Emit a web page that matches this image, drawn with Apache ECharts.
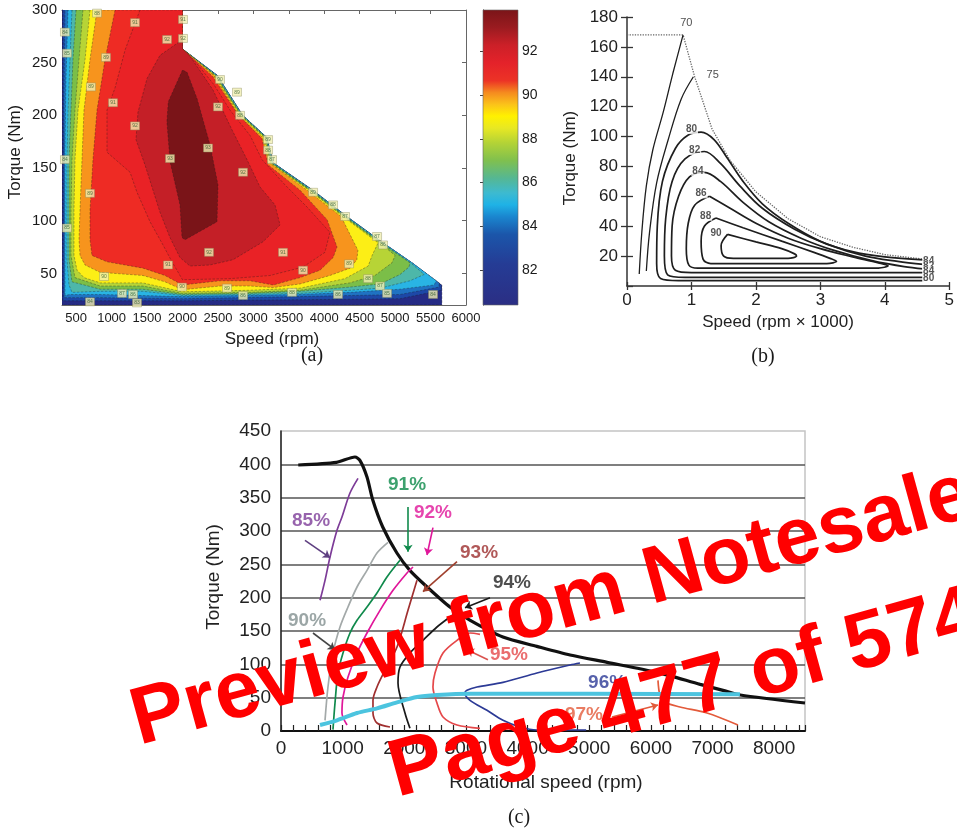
<!DOCTYPE html>
<html>
<head>
<meta charset="utf-8">
<script src="https://cdn.jsdelivr.net/npm/echarts@6/dist/echarts.min.js"></script>
<style>
  html, body { margin: 0; padding: 0; background: #fff; }
  #chart { width: 957px; height: 832px; }
</style>
</head>
<body>
<div id="chart"></div>
<script>
// ---------- (a) efficiency map: speed (rpm) vs torque (Nm), filled contour regions ----------
// Each region is the area where efficiency >= its level, listed as [speed, torque] vertices.
const mapLevels = [81, 82, 83, 84, 85.5, 86.5, 87.5, 88.5, 89.5, 90.5, 91.5, 92.5, 93.5];

const region81 = [[300,20],[300,300],[2000,300],[2000,263],[2490,238],[2850,200],[3190,179],[3280,155],[3840,129],[4320,104],[4830,79],[5240,60],[5660,39],[5660,20]];
const region82 = [[314,24],[314,300],[2000,300],[2000,263],[2490,238],[2850,200],[3190,179],[3280,155],[3840,129],[4320,104],[4830,79],[5240,60],[5650,39],[5650,34],[5070,26],[3660,25],[2000,24]];
const region83 = [[328,27],[328,215],[342,300],[2000,300],[2000,263],[2490,238],[2850,200],[3190,179],[3280,155],[3840,129],[4320,104],[4830,79],[5240,60],[5620,41],[5620,37],[5070,30],[3660,28],[2000,26],[840,27]];
const region84 = [[342,29],[342,167],[356,234],[385,300],[2000,300],[2000,263],[2490,238],[2850,200],[3190,179],[3280,155],[3840,129],[4320,104],[4830,79],[5240,60],[5580,43],[5550,39],[5070,35],[4360,32],[3660,30],[2000,28],[840,30],[410,30]];
const region85 = [[441,300],[413,253],[385,205],[370,158],[370,63],[399,39],[441,32],[840,33],[1440,33],[2000,29],[2950,30],[3660,31],[4360,34],[4790,36],[5210,43],[5410,49],[5220,60],[4815,79],[4305,104],[3828,129],[3270,155],[3185,179],[2845,200],[2480,238],[2000,263],[2000,300]];
const region86 = [[498,300],[455,253],[427,205],[399,158],[399,63],[441,42],[840,35],[1440,35],[2000,30],[2950,31],[3660,33],[4360,37],[4790,40],[5070,49],[5195,56],[5210,60],[4800,79],[4295,104],[3815,129],[3255,155],[3175,179],[2835,200],[2470,238],[2000,263],[2000,300]];
const region87 = [[596,300],[540,253],[483,205],[441,158],[427,110],[427,67],[483,46],[840,38],[1440,38],[2000,31],[2950,32],[3660,34],[4360,41],[4715,48],[4955,60],[5000,67],[4785,79],[4280,104],[3800,129],[3245,155],[3165,179],[2825,200],[2460,238],[2000,263],[2000,300]];
const region88 = [[695,300],[625,253],[526,205],[483,158],[469,110],[469,67],[512,53],[610,46],[840,41],[1440,41],[2000,32.5],[2950,34],[3660,36],[4290,45],[4620,57],[4675,67],[4760,79],[4265,104],[3785,129],[3235,155],[3150,179],[2815,200],[2450,238],[2000,263],[2000,300]];
const region89 = [[794,300],[695,253],[610,205],[582,158],[554,110],[540,82],[554,67],[625,58],[836,51],[1443,48],[1753,42],[2000,34.5],[2530,38],[2950,38],[3280,36.5],[3660,40],[4080,48],[4365,55],[4460,63],[4475,72],[4237,104],[3757,129],[3225,155],[3130,179],[2800,200],[2440,238],[2000,263],[2000,300]];
const region90 = [[1048,300],[907,253],[794,205],[737,158],[695,110],[695,82],[723,67],[935,61],[1443,55],[1753,48],[2000,39],[2530,43],[2950,43],[3280,39],[3660,46],[3940,53],[4125,65],[4180,75],[4040,101],[3658,129],[3210,153],[3120,178],[2790,200],[2425,237],[2000,263],[2000,300]];
const region91 = [[1400,300],[1190,262],[1048,226],[935,205],[935,165],[1260,146],[1358,127],[1542,99],[1725,77],[1852,61],[2000,44],[2670,45],[3235,48],[3700,56],[4010,70],[4080,89],[3757,113],[3447,134],[3122,158],[2953,181],[2670,205],[2445,229],[2180,251],[2000,263],[2000,300]];
const region92 = [[2000,272],[1683,257],[1500,235],[1372,203],[1344,177],[1471,153],[1584,129],[1683,108],[1824,84],[1965,65],[2106,57],[2388,58],[2713,63],[3136,80],[3376,96],[3305,115],[3094,132],[2910,158],[2700,186],[2431,224],[2150,252],[2080,258],[2000,263]];
const region93 = [[2000,243],[1800,213],[1780,194],[1825,156],[1965,115],[1993,84],[2036,82],[2487,99],[2501,134],[2388,172],[2205,216],[2064,241]];

const mapRegions = [region81, region82, region83, region84, region85, region86, region87,
                    region88, region89, region90, region91, region92, region93];

// contour labels on the map: [speed, torque, level]
const mapLabels = [[1330,288,91],[1782,272,92],[2007,291,91],[2007,273,92],[921,255,89],[709,227,89],[1020,212,91],[1330,190,92],[1824,159,93],[2360,169,93],[2854,146,92],[695,126,89],[2501,208,92],[2529,234,90],[2769,222,89],[2812,200,88],[3207,177,89],[3207,167,88],[3263,158,87],[3842,127,89],[4124,115,88],[4293,104,87],[4745,85,87],[4829,77,86],[2374,70,92],[3418,70,91],[1796,58,91],[3701,53,90],[4350,59,89],[893,47,90],[4618,45,88],[1993,37,90],[2628,36,89],[3545,32,88],[4787,38,87],[1147,31,87],[1302,30,86],[4194,30,86],[4886,31,85],[5535,30,84],[695,23,84],[1358,22,83],[2854,29,86],[370,259,85],[342,279,84],[342,158,84],[370,93,85],[794,297,88]];

const speedTicksA = [500, 1000, 1500, 2000, 2500, 3000, 3500, 4000, 4500, 5000, 5500, 6000];
const torqueTicksA = [50, 100, 150, 200, 250, 300];
const colorbarRange = [80.4, 93.9];
const colorbarTicks = [82, 84, 86, 88, 90, 92];

// ---------- (b) efficiency contours: speed (rpm x 1000) vs torque (Nm) ----------
const torqueLimitB = [[0,168],[0.87,168],[1.05,140],[1.32,105],[1.6,84],[2.0,63],[2.5,45],[3.0,33],[3.5,26],[4.0,21],[4.6,18]];
const contour70 = [[0.19,8],[0.23,36],[0.30,67],[0.40,91],[0.56,116],[0.71,142],[0.87,168]];
const contour75 = [[0.30,10],[0.35,36],[0.46,69],[0.64,98],[0.84,125],[1.03,140]];
const contour80 = [[4.6,3.6],[2.5,3.6],[0.8,3.6],[0.52,5],[0.46,15],[0.47,40],[0.55,70],[0.75,92],[0.95,101],[1.15,103],[1.35,98],[1.55,86],[1.8,70],[2.1,55],[2.5,42],[3.0,30],[3.5,23],[4.0,19.5],[4.6,17.5]];
const contour82 = [[4.6,5.8],[2.5,5.8],[0.9,5.8],[0.63,7.5],[0.58,20],[0.60,45],[0.70,70],[0.9,85],[1.2,90],[1.45,82],[1.75,67],[2.1,52],[2.6,38],[3.1,28],[3.7,20],[4.2,16.5],[4.6,14.5]];
const contour84 = [[4.6,8.9],[2.5,8.9],[1.0,8.9],[0.75,10.5],[0.69,20],[0.70,40],[0.80,60],[0.97,73],[1.2,76],[1.45,70],[1.8,56],[2.2,43],[2.7,32],[3.2,24],[3.8,17],[4.3,13],[4.6,11.5]];
const contour86 = [[1.28,60],[1.6,52],[2.0,42],[2.5,32],[3.0,25],[3.5,19.5],[3.9,15.5],[4.05,13.5],[3.9,12],[3.0,12],[2.0,12],[1.1,12],[0.96,14],[0.92,25],[0.95,42],[1.05,54],[1.28,60]];
const contour88 = [[1.38,45.5],[1.8,39],[2.4,30],[2.9,22.5],[3.15,18.5],[3.25,16.5],[3.1,15],[2.0,15],[1.3,15],[1.18,18],[1.15,30],[1.2,40],[1.38,45.5]];
const contour90 = [[1.56,34.5],[2.0,29.5],[2.4,25],[2.6,21.5],[2.63,20],[2.5,18.5],[1.65,18.5],[1.5,20],[1.46,27],[1.56,34.5]];
const contoursB = [contour70, contour75, contour80, contour82, contour84, contour86, contour88, contour90];
// contour value labels: [speed, torque, text]
const contourLabelsB = [[0.92,176,'70'],[1.33,141,'75'],[1.0,105,'80'],[1.05,91,'82'],[1.1,77,'84'],[1.15,62,'86'],[1.22,47,'88'],[1.38,35,'90'],[4.68,16.5,'84'],[4.68,13.2,'82'],[4.68,10,'84'],[4.68,5,'80']];

// ---------- (c) efficiency curves: rotational speed (rpm) vs torque (Nm) ----------
const torqueLimitC = [[280,399],[900,403],[1200,411],[1280,406],[1395,381],[1490,346],[1650,306],[1880,267],[2090,241],[2370,216],[2740,186],[3070,166],[3600,141],[4150,127],[4690,114],[5290,103],[6100,88],[6800,70],[7170,61],[7450,54],[8500,42]];
const eff85 = [[633,196],[714,226],[795,261],[908,301],[989,321],[1119,357],[1249,379]];
const eff90 = [[714,16],[762,66],[843,117],[957,156],[1087,186],[1233,216],[1395,241],[1557,267],[1736,283]];
const eff91 = [[843,2],[876,42],[924,87],[1006,117],[1119,147],[1233,166],[1395,186],[1557,207],[1719,231],[1930,256]];
const eff92 = [[1071,9],[989,27],[1006,51],[1087,81],[1233,117],[1395,147],[1606,181],[1817,211],[2044,237],[2141,246]];
const eff93 = [[1768,6],[1557,12],[1492,27],[1492,46],[1557,66],[1687,91],[1882,126],[2060,181],[2206,226]];
const eff94 = [[2092,4],[2011,27],[1898,72],[1930,96],[2092,117],[2303,136],[2530,156],[2741,171],[2903,181]];
const eff95 = [[3228,145],[3066,147],[2855,136],[2628,117],[2498,87],[2465,66],[2530,42],[2628,21],[2855,9],[3228,4]];
const eff96 = [[4850,102],[4688,99],[4152,87],[3601,73],[3179,66],[3017,61],[2984,57],[3066,46],[3341,31],[3601,16],[3877,6],[4152,1.5],[4950,1.5]];
const eff97 = [[6115,76],[6147,54],[6228,43],[6472,36],[6910,27],[7413,9]];
const torque50Line = [[633,9],[908,16],[1233,27],[1557,34],[1882,43],[2206,51],[2530,54],[3066,56],[7445,55]];

const effLabelText = ['85%', '90%', '91%', '92%', '93%', '94%', '95%', '96%', '97%'];
const effLabelPos = [[487,316],[422,166],[2044,369],[2465,328],[3212,267],[3747,222],[3698,114],[5290,72],[4915,25]];
const arrowStarts = [[389,286],[519,147],[2060,336],[2465,305],[2855,254],[3390,200],[3357,107],[5369,21]];
const arrowEnds   = [[795,260],[876,122],[2060,269],[2368,264],[2303,209],[2984,185],[3017,122],[6115,39]];
const speedTicksC = [0, 1000, 2000, 3000, 4000, 5000, 6000, 7000, 8000];

// ---------- styles ----------
const FONT = '"Liberation Sans", Arial, sans-serif';
const regionColors = ['#252b85','#1d48a7','#1f72c2','#29b4e4','#4db7a9','#7bbe48','#b7d436','#fcee16','#f7941d','#ee2b24','#e92226','#c41f27','#7a1418'];
const colorbarStops = [[0.00,'#7a1518'],[0.06,'#9a1b20'],[0.12,'#cc2028'],[0.18,'#e4222a'],[0.24,'#ec3326'],[0.28,'#f58a1f'],[0.32,'#fbc21a'],[0.36,'#fff100'],[0.40,'#e8e823'],[0.45,'#b4d336'],[0.51,'#80c04e'],[0.57,'#55b793'],[0.62,'#3dbad0'],[0.66,'#1fb2e6'],[0.70,'#1a86cf'],[0.76,'#1b56aa'],[0.86,'#253c95'],[1.00,'#2b2e84']];
const effCurveColors = ['#7d3c98','#a3a9a9','#108a4c','#e0179a','#a03030','#1a1a1a','#e5484a','#2c3a96','#e35b3b'];
const effLabelColors = ['#7d3c98','#829090','#0d8a4a','#e0179a','#9c2e2e','#222222','#e5484a','#2c3a96','#e35b3b'];
const arrowColors = ['#5e3f80','#444444','#108a4c','#e0179a','#a0402e','#1a1a1a','#d9534f','#e35b3b'];
const plainNumber = v => String(v);

const chart = echarts.init(document.getElementById('chart'));

function regionRenderer(params, api) {
  const i = params.dataIndex;
  const pts = mapRegions[i].map(p => api.coord(p));
  return {
    type: 'polygon',
    shape: { points: pts },
    style: { fill: regionColors[i], stroke: 'rgba(25,25,25,0.55)', lineWidth: 0.6, lineDash: [2.5, 1.5] }
  };
}

function colorbarRenderer(params, api) {
  const a = api.coord([0, colorbarRange[1]]);
  const b = api.coord([1, colorbarRange[0]]);
  return {
    type: 'rect',
    shape: { x: a[0], y: a[1], width: b[0] - a[0], height: b[1] - a[1] },
    style: {
      fill: { type: 'linear', x: 0, y: 0, x2: 0, y2: 1,
              colorStops: colorbarStops.map(s => ({ offset: s[0], color: s[1] })) },
      stroke: '#666', lineWidth: 0.6
    }
  };
}

const boxAxisLine = { show: true, onZero: false, lineStyle: { color: '#666', width: 1 } };

const curveSeriesC = [eff85, eff90, eff91, eff92, eff93, eff94, eff95, eff96, eff97].map((d, i) => ({
  type: 'line', xAxisIndex: 5, yAxisIndex: 6, data: d, showSymbol: false, smooth: 0.3,
  lineStyle: { color: effCurveColors[i], width: 1.7 }, z: 3
}));

const contourSeriesB = contoursB.map((d, i) => ({
  type: 'line', xAxisIndex: 3, yAxisIndex: 4, data: d, showSymbol: false, smooth: 0.35,
  lineStyle: { color: '#1e1e1e', width: i < 2 ? 1.3 : 1.7 }
}));

const option = {
  animation: false,
  backgroundColor: '#ffffff',
  textStyle: { fontFamily: FONT },
  grid: [
    { left: 62, top: 10, width: 404, height: 295 },
    { left: 483, top: 10, width: 35, height: 295 },
    { left: 627, top: 17, width: 325, height: 269 },
    { left: 281, top: 431, width: 524, height: 300, show: true, borderColor: '#c4c4c4', borderWidth: 1.5, backgroundColor: 'transparent' }
  ],
  xAxis: [
    { gridIndex: 0, type: 'value', min: 300, max: 6000, position: 'bottom', axisLine: boxAxisLine,
      axisTick: { show: true, inside: true, length: 4, customValues: speedTicksA, lineStyle: { color: '#666' } },
      axisLabel: { customValues: speedTicksA, formatter: plainNumber, fontSize: 13, color: '#1a1a1a', margin: 7 },
      splitLine: { show: false } },
    { gridIndex: 0, type: 'value', min: 300, max: 6000, position: 'top', axisLine: boxAxisLine,
      axisTick: { show: true, inside: true, length: 4, customValues: speedTicksA, lineStyle: { color: '#666' } },
      axisLabel: { show: false }, splitLine: { show: false } },
    { gridIndex: 1, type: 'value', min: 0, max: 1, show: false },
    { gridIndex: 2, type: 'value', min: 0, max: 5, interval: 1, position: 'bottom',
      axisLine: { show: true, onZero: false, lineStyle: { color: '#333', width: 1.5 } },
      axisTick: { show: true, length: 4, lineStyle: { color: '#333', width: 1.3 } },
      axisLabel: { fontSize: 17, color: '#222', margin: 6 }, splitLine: { show: false } },
    { gridIndex: 2, type: 'value', min: 0, max: 5, interval: 1, position: 'bottom',
      axisLine: { show: false }, axisTick: { show: true, inside: true, length: 4, lineStyle: { color: '#333', width: 1.3 } },
      axisLabel: { show: false }, splitLine: { show: false } },
    { gridIndex: 3, type: 'value', min: 0, max: 8500, interval: 200, position: 'bottom',
      axisLine: { show: true, onZero: false, lineStyle: { color: '#111', width: 2 } },
      axisTick: { show: true, inside: true, length: 6, lineStyle: { color: '#222', width: 1.2 } },
      axisLabel: { customValues: speedTicksC, formatter: plainNumber, fontSize: 19, color: '#222', margin: 8 },
      splitLine: { show: false } }
  ],
  yAxis: [
    { gridIndex: 0, type: 'value', min: 20, max: 300, position: 'left', axisLine: boxAxisLine,
      axisTick: { show: true, inside: true, length: 4, customValues: torqueTicksA, lineStyle: { color: '#666' } },
      axisLabel: { customValues: torqueTicksA, fontSize: 15, color: '#1a1a1a', margin: 5 },
      splitLine: { show: false } },
    { gridIndex: 0, type: 'value', min: 20, max: 300, position: 'right', axisLine: boxAxisLine,
      axisTick: { show: true, inside: true, length: 4, customValues: torqueTicksA, lineStyle: { color: '#666' } },
      axisLabel: { show: false }, splitLine: { show: false } },
    { gridIndex: 1, type: 'value', min: colorbarRange[0], max: colorbarRange[1], position: 'right',
      axisLine: { show: true, lineStyle: { color: '#666', width: 1 } },
      axisTick: { show: true, inside: true, length: 3, customValues: colorbarTicks, lineStyle: { color: '#444' } },
      axisLabel: { customValues: colorbarTicks, fontSize: 14, color: '#1a1a1a', margin: 4 },
      splitLine: { show: false } },
    { gridIndex: 1, type: 'value', min: colorbarRange[0], max: colorbarRange[1], position: 'left',
      axisLine: { show: true, lineStyle: { color: '#666', width: 1 } },
      axisTick: { show: true, inside: true, length: 3, customValues: colorbarTicks, lineStyle: { color: '#444' } },
      axisLabel: { show: false }, splitLine: { show: false } },
    { gridIndex: 2, type: 'value', min: 0, max: 180, interval: 20, position: 'left',
      axisLine: { show: true, onZero: false, lineStyle: { color: '#333', width: 1.5 } },
      axisTick: { show: true, length: 6, lineStyle: { color: '#333', width: 1.3 } },
      axisLabel: { fontSize: 17, color: '#222', margin: 9, showMinLabel: false },
      splitLine: { show: false } },
    { gridIndex: 2, type: 'value', min: 0, max: 180, interval: 20, position: 'left',
      axisLine: { show: false }, axisTick: { show: true, inside: true, length: 6, lineStyle: { color: '#333', width: 1.3 } },
      axisLabel: { show: false }, splitLine: { show: false } },
    { gridIndex: 3, type: 'value', min: 0, max: 450, interval: 50, position: 'left',
      axisLine: { show: true, onZero: false, lineStyle: { color: '#222', width: 1.5 } },
      axisTick: { show: false },
      axisLabel: { fontSize: 19, color: '#222', margin: 10 },
      splitLine: { show: true, showMinLine: false, showMaxLine: false, lineStyle: { color: '#555', width: 1.6 } } }
  ],
  series: [
    // (a) filled contour regions
    { type: 'custom', xAxisIndex: 0, yAxisIndex: 0, clip: true, renderItem: regionRenderer,
      data: mapRegions.map(r => r[0]), z: 2 },
    // (a) contour level tags
    { type: 'scatter', xAxisIndex: 0, yAxisIndex: 0, symbol: 'rect', symbolSize: [9, 8],
      itemStyle: { color: '#f1efb2', borderColor: '#8d8b5c', borderWidth: 0.5 },
      label: { show: true, position: 'inside', formatter: p => String(p.value[2]), fontSize: 5, color: '#2d5d2d' },
      data: mapLabels, z: 4 },
    // (a) colour scale
    { type: 'custom', xAxisIndex: 2, yAxisIndex: 2, renderItem: colorbarRenderer,
      data: [[0, colorbarRange[0]]], z: 2 },
    // (b) torque limit and efficiency contours
    { type: 'line', xAxisIndex: 3, yAxisIndex: 4, data: torqueLimitB, showSymbol: false,
      lineStyle: { color: '#666', width: 1.3, type: 'dotted' } },
    ...contourSeriesB,
    { type: 'scatter', xAxisIndex: 3, yAxisIndex: 4, symbolSize: 1, itemStyle: { color: 'rgba(0,0,0,0)' },
      data: contourLabelsB.map((d, i) => ({
        value: [d[0], d[1]],
        label: i < 2
          ? { show: true, position: 'inside', formatter: d[2], fontSize: 11, color: '#222' }
          : { show: true, position: 'inside', formatter: d[2], fontSize: 10, fontWeight: 'bold', color: '#2a2a2a',
              backgroundColor: '#ffffff', padding: [0, 1] }
      })), z: 5 },
    // (c) maximum torque curve, efficiency curves, 50 Nm line
    { type: 'line', xAxisIndex: 5, yAxisIndex: 6, data: torqueLimitC, showSymbol: false, smooth: 0.25,
      lineStyle: { color: '#111', width: 3.2 }, z: 3 },
    ...curveSeriesC,
    { type: 'line', xAxisIndex: 5, yAxisIndex: 6, data: torque50Line, showSymbol: false, smooth: 0.3,
      lineStyle: { color: '#4cc4df', width: 4 }, z: 3 },
    { type: 'lines', coordinateSystem: 'cartesian2d', xAxisIndex: 5, yAxisIndex: 6,
      symbol: ['none', 'arrow'], symbolSize: 7, lineStyle: { width: 1.6, opacity: 1, curveness: 0 },
      data: arrowStarts.map((s, i) => ({ coords: [s, arrowEnds[i]], lineStyle: { color: arrowColors[i] } })), z: 4 },
    { type: 'scatter', xAxisIndex: 5, yAxisIndex: 6, symbolSize: 1, itemStyle: { color: 'rgba(0,0,0,0)' },
      data: effLabelPos.map((p, i) => ({
        value: p,
        label: { show: true, position: 'inside', formatter: effLabelText[i], fontSize: 19, fontWeight: 'bold', color: effLabelColors[i] }
      })), z: 5 }
  ],
  graphic: [
    // axis titles and panel captions
    { type: 'text', x: 272, y: 339, style: { text: 'Speed (rpm)', font: '17px ' + FONT, fill: '#1a1a1a', align: 'center', verticalAlign: 'middle' } },
    { type: 'text', x: 15, y: 152, rotation: Math.PI / 2, style: { text: 'Torque (Nm)', font: '17px ' + FONT, fill: '#1a1a1a', align: 'center', verticalAlign: 'middle' } },
    { type: 'text', x: 312, y: 356, style: { text: '(a)', font: '20px "Liberation Serif", serif', fill: '#1a1a1a', align: 'center', verticalAlign: 'middle' } },
    { type: 'text', x: 778, y: 322, style: { text: 'Speed (rpm × 1000)', font: '17px ' + FONT, fill: '#222', align: 'center', verticalAlign: 'middle' } },
    { type: 'text', x: 570, y: 158, rotation: Math.PI / 2, style: { text: 'Torque (Nm)', font: '17px ' + FONT, fill: '#222', align: 'center', verticalAlign: 'middle' } },
    { type: 'text', x: 763, y: 357, style: { text: '(b)', font: '20px "Liberation Serif", serif', fill: '#1a1a1a', align: 'center', verticalAlign: 'middle' } },
    { type: 'text', x: 546, y: 783, style: { text: 'Rotational speed (rpm)', font: '19px ' + FONT, fill: '#222', align: 'center', verticalAlign: 'middle' } },
    { type: 'text', x: 214, y: 577, rotation: Math.PI / 2, style: { text: 'Torque (Nm)', font: '19px ' + FONT, fill: '#222', align: 'center', verticalAlign: 'middle' } },
    { type: 'text', x: 519, y: 818, style: { text: '(c)', font: '20px "Liberation Serif", serif', fill: '#1a1a1a', align: 'center', verticalAlign: 'middle' } },
    // watermark
    { type: 'text', x: 140, y: 748, rotation: 0.268, z: 100,
      style: { text: 'Preview from Notesale', x: 0, y: 15, font: 'bold 81px ' + FONT, fill: '#ff0000', align: 'left', verticalAlign: 'bottom' } },
    { type: 'text', x: 398, y: 800, rotation: 0.268, z: 100,
      style: { text: 'Page 477 of 574', x: 0, y: 15, font: 'bold 81px ' + FONT, fill: '#ff0000', align: 'left', verticalAlign: 'bottom' } }
  ]
};

chart.setOption(option);
</script>
</body>
</html>
